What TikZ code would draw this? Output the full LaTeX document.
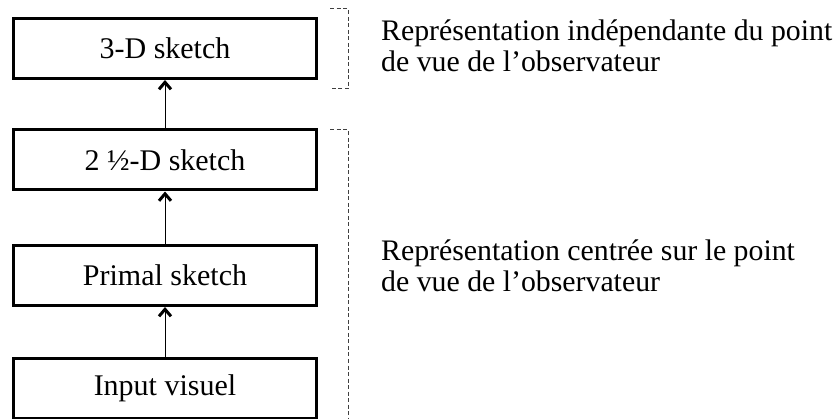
\documentclass[tikz,border=0pt]{standalone}
\usepackage{fontspec}
\setmainfont{Liberation Serif}
\usetikzlibrary{arrows.meta}
\begin{document}
\begin{tikzpicture}[x=1pt,y=-1pt,
  stagebox/.style={draw=black, line width=3pt, fill=white,
    minimum width=303pt, minimum height=60pt, inner sep=0pt,
    font=\fontsize{30}{31}\selectfont},
  uparrow/.style={draw=black, line width=1pt,
    -{Straight Barb[length=7pt,width=12pt,line width=3pt]}},
  bracket/.style={draw=black!75, line width=1pt, dash pattern=on 4pt off 2.5pt},
  desc/.style={anchor=base west, inner sep=0pt,
    font=\fontsize{29.8}{31}\selectfont}]
  \useasboundingbox (0,0) rectangle (840,419);

  % processing stages, bottom to top
  \node[stagebox] (top)    at (165,48.5)  {3-D sketch};
  \node[stagebox] (half)   at (165,160)   {2 ½-D sketch};
  \node[stagebox] (primal) at (165,275.5) {Primal sketch};
  \node[stagebox] (input)  at (165,388.5) {Input visuel};

  % flow between stages
  \draw[uparrow] (input.north)  -- (primal.south);
  \draw[uparrow] (primal.north) -- (half.south);
  \draw[uparrow] (half.north)   -- (top.south);

  % dashed brackets grouping the stages
  \draw[bracket] (330,9) -- (348,9) -- (348,89) -- (330,89);
  \draw[bracket] (330,130) -- (348,130) -- (348,422);

  % descriptions
  \node[desc] (descA1) at (381,41) {Représentation indépendante du point};
  \node[desc] (descA2) at (381,72) {de vue de l’observateur};
  \node[desc] (descB1) at (381,261) {Représentation centrée sur le point};
  \node[desc] (descB2) at (381,292) {de vue de l’observateur};
\end{tikzpicture}
\end{document}
